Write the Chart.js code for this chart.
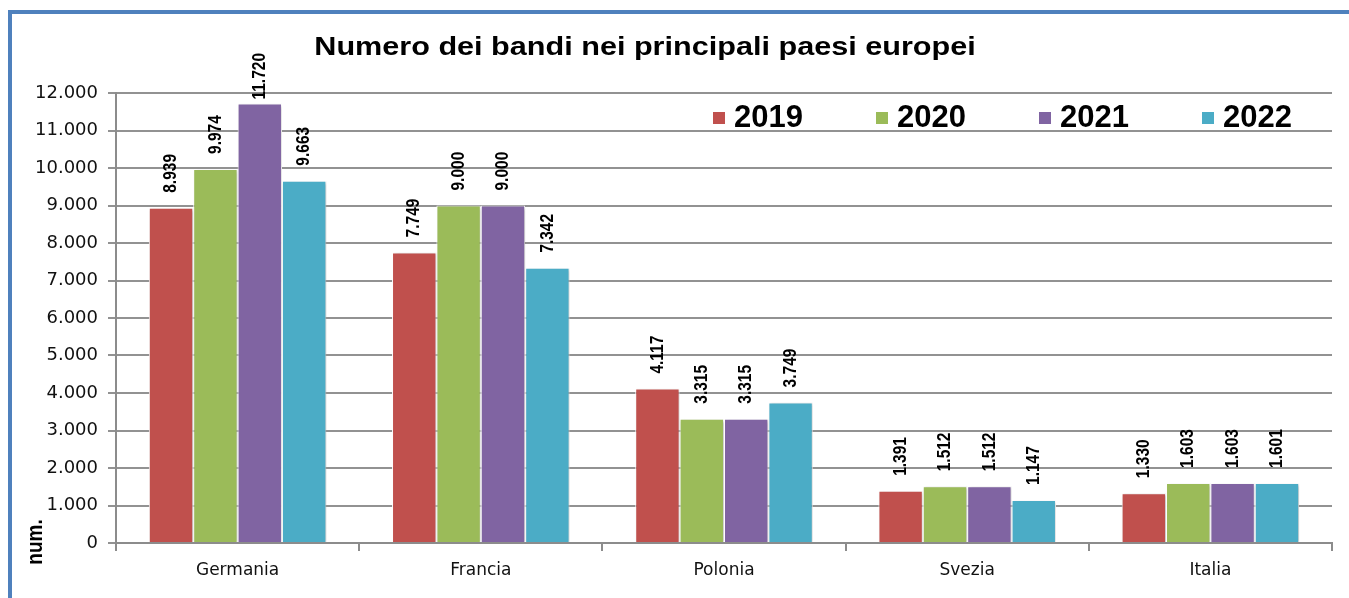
<!DOCTYPE html>
<html>
<head>
<meta charset="utf-8">
<script src="https://cdn.jsdelivr.net/npm/chart.js@4.4.1/dist/chart.umd.min.js"></script>
<style>
  html, body { margin: 0; padding: 0; background: #ffffff; overflow: hidden; width: 1349px; height: 598px; }
  #frame { position: absolute; left: 8px; top: 10px; width: 2000px; height: 2000px;
           border-left: 4px solid #4F81BD; border-top: 4px solid #4F81BD; box-sizing: border-box; }
  #wrap { position: absolute; left: 0; top: 0; width: 1349px; height: 598px; }
</style>
</head>
<body>
<div id="frame"></div>
<div id="wrap"><canvas id="c" width="1349" height="598"></canvas></div>
<script>
// ---- data ----
const chartTitle = 'Numero dei bandi nei principali paesi europei';
const yAxisTitle = 'num.';
const categories = ['Germania', 'Francia', 'Polonia', 'Svezia', 'Italia'];
const seriesNames = ['2019', '2020', '2021', '2022'];
const values2019 = [8939, 7749, 4117, 1391, 1330];
const values2020 = [9974, 9000, 3315, 1512, 1603];
const values2021 = [11720, 9000, 3315, 1512, 1603];
const values2022 = [9663, 7342, 3749, 1147, 1601];
const seriesColors = ['#C0504D', '#9BBB59', '#8064A2', '#4BACC6'];
const yMin = 0, yMax = 12000, yStep = 1000;

function fmt(v) {
  return String(Math.round(v)).replace(/\B(?=(\d{3})+(?!\d))/g, '.');
}

const seriesValues = [values2019, values2020, values2021, values2022];

function drawText(ctx, text, x, y, opts) {
  ctx.save();
  ctx.translate(x, y);
  ctx.scale(opts.sx || 1, opts.sy || 1);
  if (opts.rot) ctx.rotate(opts.rot);
  ctx.font = opts.font;
  ctx.fillStyle = opts.color || '#000';
  ctx.textAlign = opts.align || 'left';
  ctx.textBaseline = opts.baseline || 'alphabetic';
  ctx.fillText(text, 0, 0);
  ctx.restore();
}

const LABEL_FONT = 'bold 15.5px "Liberation Sans", Arial, sans-serif';

const decorPlugin = {
  id: 'decor',
  beforeDatasetsDraw(chart) {
    const ctx = chart.ctx;
    ctx.save();
    ctx.shadowColor = 'rgba(0,0,0,0.22)';
    ctx.shadowBlur = 3;
    ctx.shadowOffsetX = 1.5;
    ctx.shadowOffsetY = 1;
  },
  afterDatasetsDraw(chart) {
    const ctx = chart.ctx;
    ctx.restore();
    ctx.save();
    ctx.font = LABEL_FONT;
    chart.data.datasets.forEach((ds, di) => {
      const meta = chart.getDatasetMeta(di);
      meta.data.forEach((bar, i) => {
        const txt = fmt(ds.data[i]);
        const len = ctx.measureText(txt).width;
        let y = bar.y - 15;
        if (y - len < 53) y = 53 + len;
        drawText(ctx, txt, bar.x, y, {
          font: LABEL_FONT, sx: 1.2, rot: -Math.PI / 2, align: 'left', baseline: 'middle', color: '#000'
        });
      });
    });
    ctx.restore();
  },
  afterDraw(chart) {
    const ctx = chart.ctx;
    // title
    drawText(ctx, chartTitle, 645, 55, {
      font: 'bold 25.5px "Liberation Sans", Arial, sans-serif', sx: 1.2, align: 'center', color: '#000'
    });
    // axis title
    drawText(ctx, yAxisTitle, 36, 542, {
      font: 'bold 19px "Liberation Sans", Arial, sans-serif', sx: 1.2, rot: -Math.PI / 2,
      align: 'center', baseline: 'middle', color: '#000'
    });
    // legend
    const lx0 = 713, lstep = 163, ly = 127;
    seriesNames.forEach((name, i) => {
      const x = lx0 + i * lstep;
      ctx.fillStyle = seriesColors[i];
      ctx.fillRect(x, 112, 12, 12);
      drawText(ctx, name, x + 21, ly, {
        font: 'bold 31px "Liberation Sans", Arial, sans-serif', align: 'left', color: '#000'
      });
    });
  }
};

const datasets = seriesNames.map((name, i) => ({
  label: name,
  data: seriesValues[i],
  backgroundColor: seriesColors[i],
  borderColor: '#ffffff',
  borderWidth: 1,
  categoryPercentage: 0.73,
  barPercentage: 1.0
}));

new Chart(document.getElementById('c'), {
  type: 'bar',
  data: { labels: categories, datasets: datasets },
  options: {
    responsive: false,
    animation: false,
    devicePixelRatio: 1,
    layout: { padding: { top: 93, right: 17, bottom: 0, left: 0 } },
    plugins: {
      legend: { display: false },
      title: { display: false },
      tooltip: { enabled: false }
    },
    scales: {
      x: {
        afterFit(s) { s.height = 55; },
        grid: { drawOnChartArea: false, drawTicks: true, tickLength: 8, color: '#8c8c8c', lineWidth: 2 },
        border: { color: '#8c8c8c', width: 2 },
        ticks: { color: '#111', font: { family: 'DejaVu Sans', size: 17 }, padding: 9 }
      },
      y: {
        min: yMin, max: yMax,
        afterFit(s) { s.width = 116; },
        grid: { color: '#929292', lineWidth: 2, tickLength: 8 },
        border: { color: '#8c8c8c', width: 2 },
        ticks: { stepSize: yStep, color: '#111', font: { family: 'DejaVu Sans', size: 18 }, padding: 10,
                 callback: (v) => fmt(v) }
      }
    }
  },
  plugins: [decorPlugin]
});
</script>
</body>
</html>
